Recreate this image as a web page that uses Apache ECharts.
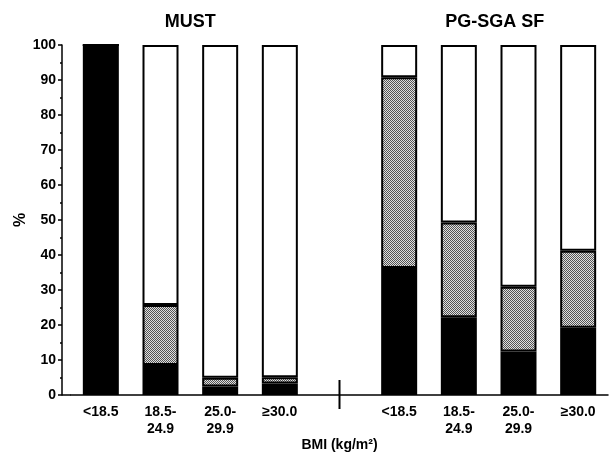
<!DOCTYPE html>
<html>
<head>
<meta charset="utf-8">
<script src="https://cdn.jsdelivr.net/npm/echarts@6/dist/echarts.min.js"></script>
<style>
  html, body { margin: 0; padding: 0; background: #fff; }
  #main { width: 609px; height: 454px; }
</style>
</head>
<body>
<div id="main"></div>
<script>
// categories: 4 MUST groups, an empty gap, 4 PG-SGA SF groups
const categories = ['m1', 'm2', 'm3', 'm4', 'gap', 'p1', 'p2', 'p3', 'p4'];
const tickLabels = ['<18.5', '18.5-\n24.9', '25.0-\n29.9', '\u226530.0', '', '<18.5', '18.5-\n24.9', '25.0-\n29.9', '\u226530.0'];
const groupTitles = ['MUST', 'PG-SGA SF'];

// stacked percentages (bottom -> top)
const blackVals = [100, 8.6, 2.4, 3.3, null, 36.3, 22.2, 12.4, 19.2];
const hatchVals = [0, 17.1, 2.5, 1.8, null, 54.5, 27.1, 18.5, 22.0];
const whiteVals = [0, 74.3, 95.1, 94.9, null, 9.2, 50.7, 69.1, 58.8];

const yTicks = [0, 100, 10];  // min, max, interval

const FONT = '"Liberation Sans", Arial, sans-serif';
const GRID_LEFT = 71;
const Y_OFFSET = 9;

// fine checker texture for the middle segment
function hatchPattern() {
  const c = document.createElement('canvas');
  c.width = 2; c.height = 2;
  const ctx = c.getContext('2d');
  ctx.fillStyle = '#e0e0e0';
  ctx.fillRect(0, 0, 2, 2);
  ctx.fillStyle = '#555';
  ctx.fillRect(0, 0, 1, 1);
  ctx.fillRect(1, 1, 1, 1);
  return { image: c, repeat: 'repeat' };
}

const chart = echarts.init(document.getElementById('main'));

function barSeries(name, data, color) {
  return {
    name: name,
    type: 'bar',
    stack: 'all',
    barWidth: 36,
    data: data,
    itemStyle: { color: color, borderColor: '#000', borderWidth: 2 },
    silent: true
  };
}

const option = {
  animation: false,
  grid: { left: GRID_LEFT, right: 1, top: 45, bottom: 59, outerBoundsMode: 'none', containLabel: false },
  xAxis: {
    type: 'category',
    data: categories,
    name: 'BMI (kg/m\u00b2)',
    nameLocation: 'middle',
    nameGap: 43,
    nameMoveOverlap: false,
    nameTextStyle: { fontFamily: FONT, fontWeight: 'bold', fontSize: 14, color: '#000' },
    axisLine: { lineStyle: { color: '#000', width: 1.5 } },
    axisTick: {
      alignWithLabel: true, length: 4,
      lineStyle: { color: '#000', width: 1.5 },
      interval: (i) => i !== 4
    },
    axisLabel: {
      interval: 0,
      margin: 9,
      fontFamily: FONT, fontWeight: 'bold', fontSize: 14, color: '#000',
      lineHeight: 17,
      formatter: (v, i) => tickLabels[i]
    }
  },
  yAxis: {
    type: 'value',
    min: yTicks[0], max: yTicks[1], interval: yTicks[2],
    offset: Y_OFFSET,
    name: '%',
    nameLocation: 'middle',
    nameGap: 33,
    nameMoveOverlap: false,
    nameRotate: 90,
    nameTextStyle: { fontFamily: FONT, fontWeight: 'bold', fontSize: 16, color: '#000' },
    axisLine: { show: true, lineStyle: { color: '#000', width: 1.5 } },
    axisTick: { show: true, length: 4, lineStyle: { color: '#000', width: 1.5 } },
    minorTick: { show: true, splitNumber: 2, length: 2, lineStyle: { color: '#000', width: 1.5 } },
    splitLine: { show: false },
    axisLabel: { margin: 6, fontFamily: FONT, fontWeight: 'bold', fontSize: 14, color: '#000' }
  },
  series: [
    barSeries('low', blackVals, '#000'),
    barSeries('mid', hatchVals, hatchPattern()),
    barSeries('high', whiteVals, '#fff')
  ]
};

chart.setOption(option);

// group titles, axis break mark and the short stub of x axis under the offset y axis
const base = chart.convertToPixel({ gridIndex: 0 }, [4, 0]);
const c1 = chart.convertToPixel({ gridIndex: 0 }, [0, 0]);
const c4 = chart.convertToPixel({ gridIndex: 0 }, [3, 0]);
const c6 = chart.convertToPixel({ gridIndex: 0 }, [5, 0]);
const c9 = chart.convertToPixel({ gridIndex: 0 }, [8, 0]);

chart.setOption({
  graphic: [
    {
      type: 'line', silent: true,
      shape: { x1: base[0], y1: base[1] - 15, x2: base[0], y2: base[1] + 14 },
      style: { stroke: '#000', lineWidth: 2 }
    },
    {
      type: 'line', silent: true,
      shape: { x1: GRID_LEFT - Y_OFFSET, y1: base[1], x2: GRID_LEFT, y2: base[1] },
      style: { stroke: '#000', lineWidth: 1.5 }
    },
    {
      type: 'text', silent: true,
      x: (c1[0] + c4[0]) / 2, y: 22,
      style: { text: groupTitles[0], fontFamily: FONT, fontWeight: 'bold', fontSize: 18, fill: '#000', align: 'center', verticalAlign: 'middle' }
    },
    {
      type: 'text', silent: true,
      x: (c6[0] + c9[0]) / 2 + 6, y: 22,
      style: { text: groupTitles[1], fontFamily: FONT, fontWeight: 'bold', fontSize: 18, fill: '#000', align: 'center', verticalAlign: 'middle' }
    }
  ]
});

window.addEventListener('resize', function () {
  chart.resize();
});
</script>
</body>
</html>
